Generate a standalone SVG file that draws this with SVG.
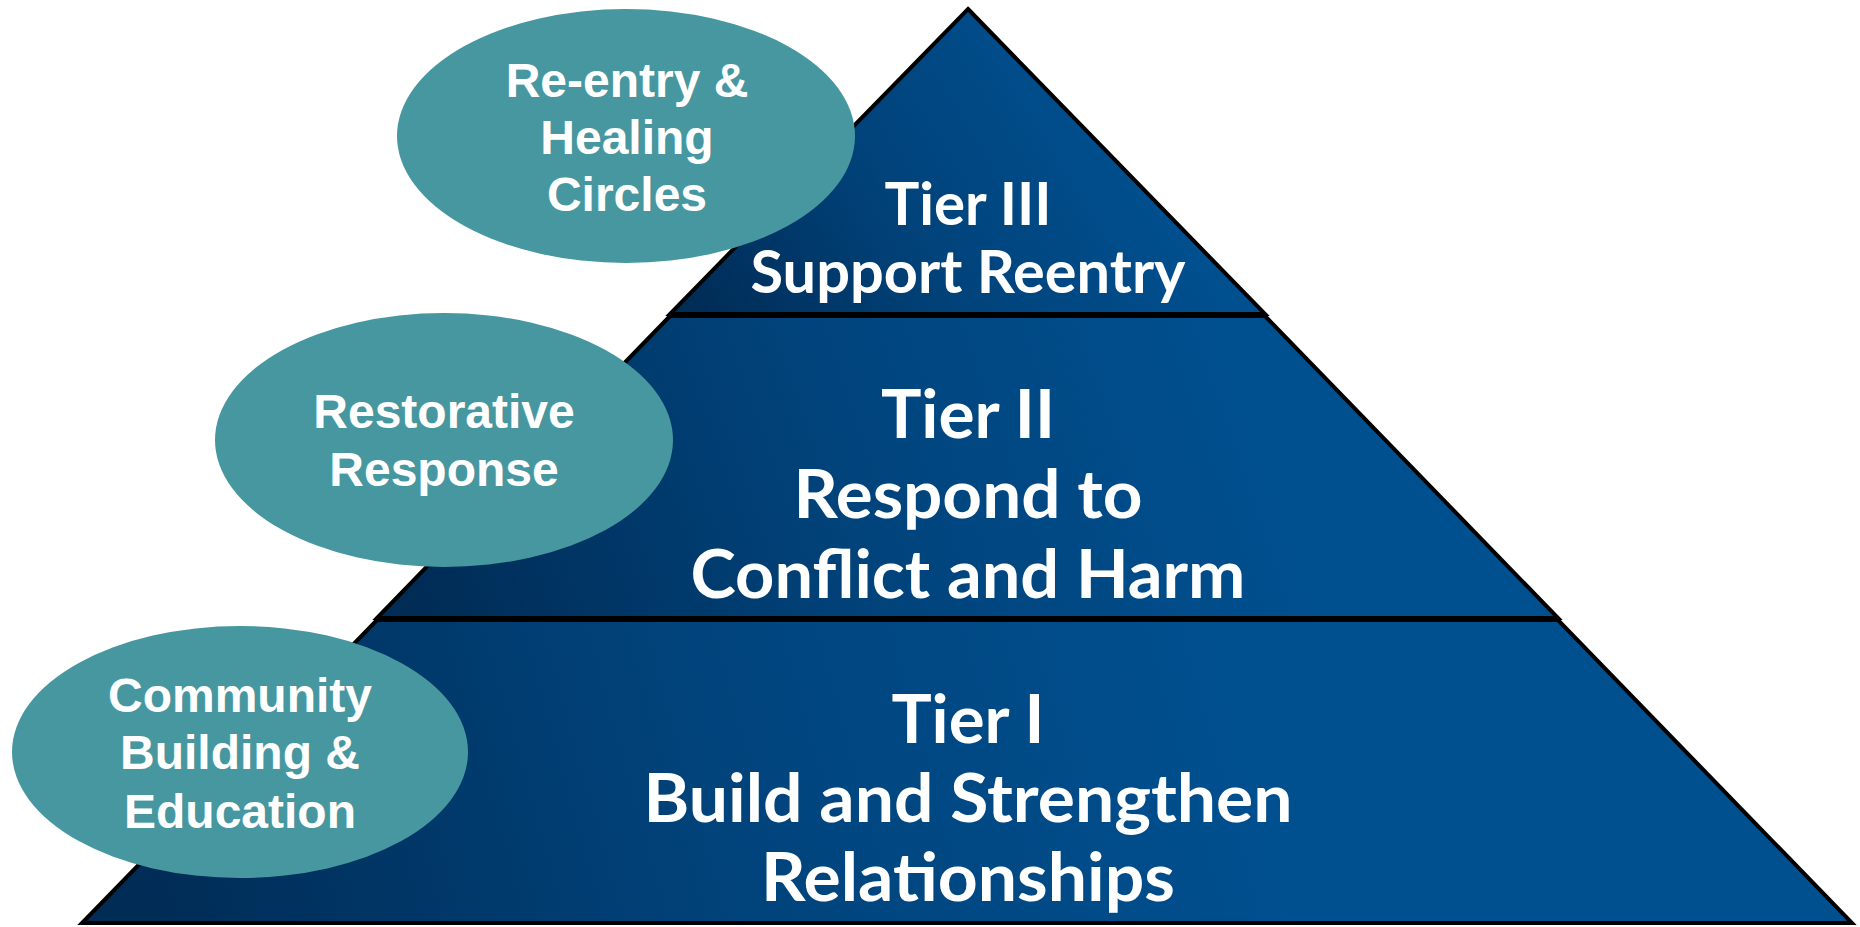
<svg xmlns="http://www.w3.org/2000/svg" width="1860" height="927" viewBox="0 0 1860 927">
  <defs>
    <linearGradient id="g1" gradientUnits="userSpaceOnUse" x1="150" y1="923" x2="1250" y2="620">
      <stop offset="0" stop-color="#002c56"/>
      <stop offset="0.5" stop-color="#01437b"/>
      <stop offset="1" stop-color="#005090"/>
    </linearGradient>
    <linearGradient id="g2" gradientUnits="userSpaceOnUse" x1="420" y1="618" x2="1250" y2="330">
      <stop offset="0" stop-color="#002c56"/>
      <stop offset="0.5" stop-color="#01437b"/>
      <stop offset="1" stop-color="#005090"/>
    </linearGradient>
    <linearGradient id="g3" gradientUnits="userSpaceOnUse" x1="690" y1="314" x2="1100" y2="60">
      <stop offset="0" stop-color="#002c56"/>
      <stop offset="0.5" stop-color="#01437b"/>
      <stop offset="1" stop-color="#005090"/>
    </linearGradient>
    <style>
      .tier { stroke: #000; stroke-width: 4; stroke-linejoin: miter; }
      .oval { fill: #4697a0; stroke: none; }
      .tierText { font-family: Lato, "Open Sans", "Liberation Sans", sans-serif; font-weight: 700; fill: #ffffff; text-anchor: middle; }
      .ovalText { font-family: "Liberation Sans", Arial, sans-serif; font-weight: 700; font-size: 48px; fill: #ffffff; text-anchor: middle; }
    </style>
  </defs>

  <g id="tier1">
    <polygon class="tier" fill="url(#g1)" points="377,620 1558,620 1852,923 82,923"/>
    <text class="tierText" font-size="67" x="968" y="743" textLength="153" lengthAdjust="spacingAndGlyphs">Tier I</text>
    <text class="tierText" font-size="67" x="968" y="822" textLength="649" lengthAdjust="spacingAndGlyphs">Build and Strengthen</text>
    <text class="tierText" font-size="67" x="968" y="901" textLength="414" lengthAdjust="spacingAndGlyphs">Relationships</text>
  </g>

  <g id="tier2">
    <polygon class="tier" fill="url(#g2)" points="670,316 1265,316 1558,618 377,618"/>
    <text class="tierText" font-size="67" x="968" y="438" textLength="174" lengthAdjust="spacingAndGlyphs">Tier II</text>
    <text class="tierText" font-size="67" x="968" y="518" textLength="349" lengthAdjust="spacingAndGlyphs">Respond to</text>
    <text class="tierText" font-size="67" x="968" y="598" textLength="555" lengthAdjust="spacingAndGlyphs">Conflict and Harm</text>
  </g>

  <g id="tier3">
    <polygon class="tier" fill="url(#g3)" points="968,9 1265,314 670,314"/>
    <text class="tierText" font-size="59" x="968" y="225" textLength="167" lengthAdjust="spacingAndGlyphs">Tier III</text>
    <text class="tierText" font-size="59" x="968" y="293" textLength="435" lengthAdjust="spacingAndGlyphs">Support Reentry</text>
  </g>

  <g id="oval-reentry">
    <ellipse class="oval" cx="626" cy="136" rx="229" ry="127"/>
    <text class="ovalText" x="627" y="97">Re-entry &amp;</text>
    <text class="ovalText" x="627" y="154">Healing</text>
    <text class="ovalText" x="627" y="211">Circles</text>
  </g>

  <g id="oval-restorative">
    <ellipse class="oval" cx="444" cy="440" rx="229" ry="127"/>
    <text class="ovalText" x="444" y="428">Restorative</text>
    <text class="ovalText" x="444" y="486">Response</text>
  </g>

  <g id="oval-community">
    <ellipse class="oval" cx="240" cy="752" rx="228" ry="126"/>
    <text class="ovalText" x="240" y="712">Community</text>
    <text class="ovalText" x="240" y="769">Building &amp;</text>
    <text class="ovalText" x="240" y="828">Education</text>
  </g>

  <g id="connectors"></g>
</svg>
